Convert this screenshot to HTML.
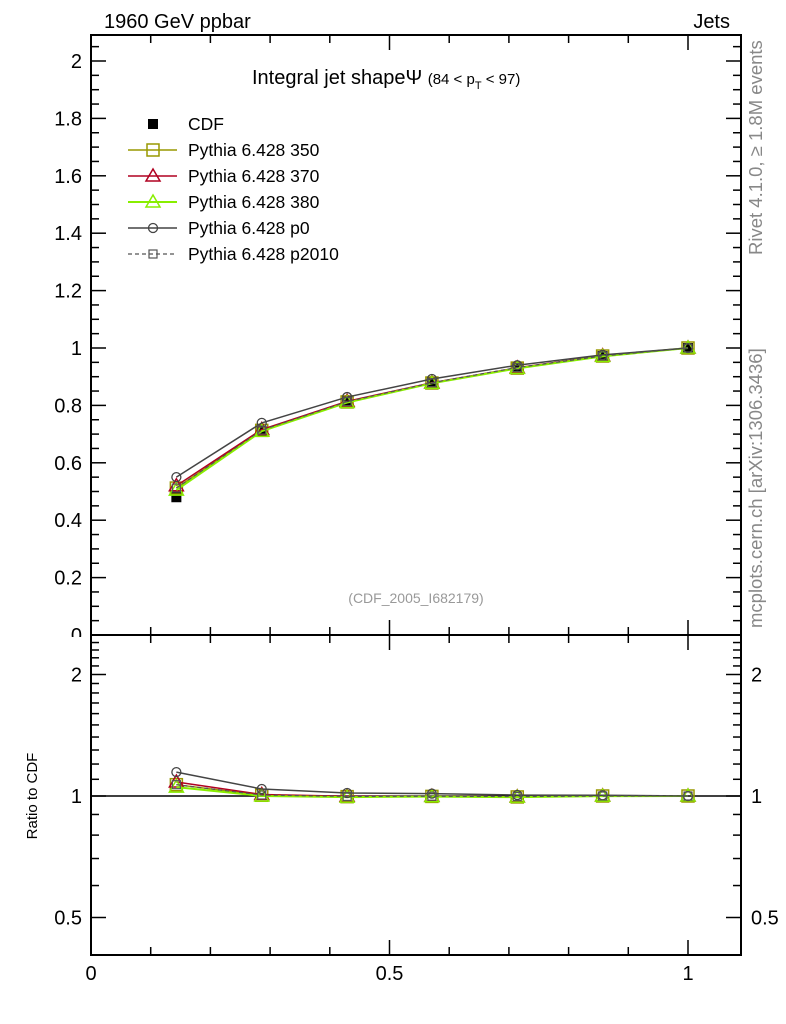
<!DOCTYPE html>
<html><head><meta charset="utf-8"><style>
body{margin:0;background:#fff;}
svg{display:block;font-family:"Liberation Sans",sans-serif;}
</style></head><body>
<svg id="c" width="786" height="1024">
<rect x="91" y="35" width="650" height="600" fill="none" stroke="#000" stroke-width="2"/>
<rect x="91" y="635" width="650" height="320" fill="none" stroke="#000" stroke-width="2"/>
<text x="104" y="28" font-size="20">1960 GeV ppbar</text>
<text x="730" y="28" font-size="20" text-anchor="end">Jets</text>
<text x="252" y="84" font-size="20">Integral jet shape&#936; <tspan font-size="15">(84 &lt; p</tspan><tspan font-size="11" dy="5">T</tspan><tspan font-size="15" dy="-5"> &lt; 97)</tspan></text>
<text x="416" y="603" font-size="14" fill="#999" text-anchor="middle">(CDF_2005_I682179)</text>
<text transform="translate(762,255) rotate(-90)" font-size="18.5" fill="#888">Rivet 4.1.0, ≥ 1.8M events</text>
<text transform="translate(762,628) rotate(-90)" font-size="18.5" fill="#888">mcplots.cern.ch [arXiv:1306.3436]</text>
<text transform="translate(37,796) rotate(-90)" font-size="15" text-anchor="middle">Ratio to CDF</text>
<g id="ax"></g><g id="marks"></g><g id="leg"></g>
<rect x="40" y="637" width="48" height="10" fill="#fff"/>
</svg>
<script>
const xs=[0.143,0.286,0.429,0.571,0.714,0.857,1.0];
const cdf=[0.48,0.71,0.815,0.88,0.935,0.972,1.0];
const s350=[0.512,0.713,0.812,0.878,0.93,0.972,1.0];
const s370=[0.52,0.716,0.814,0.879,0.931,0.973,1.0];
const s380=[0.505,0.71,0.81,0.877,0.929,0.971,1.0];
const sp0=[0.55,0.739,0.829,0.892,0.94,0.976,1.0];
const sp2010=[0.512,0.714,0.813,0.879,0.932,0.972,1.0];
const yTicks=[0,0.2,0.4,0.6,0.8,1,1.2,1.4,1.6,1.8,2];
const yTickLabels=["0","0.2","0.4","0.6","0.8","1","1.2","1.4","1.6","1.8","2"];
const rTicks=[0.5,1,2];
const rTickLabels=["0.5","1","2"];
const xTicks=[0,0.5,1];
const xTickLabels=["0","0.5","1"];
const NS="http://www.w3.org/2000/svg";
const X=v=>91+v*597;
const Y=v=>635-v*287;
const R=v=>796-Math.log2(v)*121.5;
function el(t,a,p){const e=document.createElementNS(NS,t);for(const k in a)e.setAttribute(k,a[k]);(p||document.getElementById('ax')).appendChild(e);return e;}
function ln(x1,y1,x2,y2,w){const e=el('line',{x1,y1,x2,y2,stroke:'#000','stroke-width':w||1.5});

}
for(let v=0;v<=2.07;v+=0.05){const y=Y(v);const maj=Math.abs(v*5-Math.round(v*5))<1e-6;const L=maj?15:8;ln(91,y,91+L,y);ln(741,y,741-L,y);}
yTicks.forEach((v,i)=>{const t=el('text',{x:82,y:Y(v)+7,'font-size':20,'text-anchor':'end'});t.textContent=yTickLabels[i];

});
const rminor=[0.5,0.6,0.7,0.8,0.9,1,1.1,1.2,1.3,1.4,1.5,1.6,1.7,1.8,1.9,2,2.1,2.2,2.3,2.4];
rminor.forEach(v=>{const y=R(v);if(y<636||y>954)return;const maj=rTicks.includes(v);const L=maj?15:8;ln(91,y,91+L,y);ln(741,y,741-L,y);});
rTicks.forEach((v,i)=>{let t=el('text',{x:82,y:R(v)+7,'font-size':20,'text-anchor':'end'});t.textContent=rTickLabels[i];


t=el('text',{x:751,y:R(v)+7,'font-size':20});t.textContent=rTickLabels[i];

});
for(let v=0;v<=1.09;v+=0.1){const x=X(v);const maj=Math.abs(v*2-Math.round(v*2))<1e-6;const L=maj?15:8;ln(x,955,x,955-L);ln(x,635,x,635-L);ln(x,635,x,635+L);ln(x,35,x,35+L);}
xTicks.forEach((v,i)=>{const t=el('text',{x:X(v),y:980,'font-size':20,'text-anchor':'middle'});t.textContent=xTickLabels[i];

});
const l1=el('line',{x1:91,y1:R(1),x2:741,y2:R(1),stroke:'#000','stroke-width':1.5});


const mk=document.getElementById('marks');
function marker(type,x,y,col,g){
 let e;
 if(type==='sq')e=el('rect',{x:x-6,y:y-6,width:12,height:12,fill:'none',stroke:col,'stroke-width':1.5},g);
 else if(type==='ssq')e=el('rect',{x:x-4,y:y-4,width:8,height:8,fill:'none',stroke:col,'stroke-width':1.2},g);
 else if(type==='tri')e=el('polygon',{points:`${x},${y-7} ${x-7},${y+5} ${x+7},${y+5}`,fill:'none',stroke:col,'stroke-width':1.5},g);
 else if(type==='circ')e=el('circle',{cx:x,cy:y,r:4.5,fill:'none',stroke:col,'stroke-width':1.3},g);
 else e=el('rect',{x:x-5,y:y-5,width:10,height:10,fill:col},g);
 
 
}
const gc=el('g',{},mk);


xs.forEach((x,i)=>marker('fill',X(x),Y(cdf[i]),'#000',gc));
const series=[
 {name:'Pythia 6.428 350',d:s350,col:'#999900',m:'sq',w:1.5,dash:''},
 {name:'Pythia 6.428 370',d:s370,col:'#b00020',m:'tri',w:1.5,dash:''},
 {name:'Pythia 6.428 380',d:s380,col:'#88ee00',m:'tri',w:2,dash:''},
 {name:'Pythia 6.428 p0',d:sp0,col:'#444',m:'circ',w:1.5,dash:''},
 {name:'Pythia 6.428 p2010',d:sp2010,col:'#555',m:'ssq',w:1.2,dash:'4,3'}];
series.forEach(s=>{
 const g=el('g',{},mk);
 
 
 const pm=xs.map((x,i)=>X(x)+','+Y(s.d[i])).join(' ');
 const pr=xs.map((x,i)=>X(x)+','+R(s.d[i]/cdf[i])).join(' ');
 let p=el('polyline',{points:pm,fill:'none',stroke:s.col,'stroke-width':s.w,'stroke-dasharray':s.dash},g);
 
 
 p=el('polyline',{points:pr,fill:'none',stroke:s.col,'stroke-width':s.w,'stroke-dasharray':s.dash},g);
 
 
 xs.forEach((x,i)=>{marker(s.m,X(x),Y(s.d[i]),s.col,g);marker(s.m,X(x),R(s.d[i]/cdf[i]),s.col,g);});
});
const lg=document.getElementById('leg');
const entries=[{name:'CDF',m:'fill',col:'#000',w:0,dash:''}].concat(series);
entries.forEach((s,i)=>{
 const y=124+i*26;
 const g=el('g',{},lg);
 
 
 if(s.w){const l=el('line',{x1:128,y1:y,x2:177,y2:y,stroke:s.col,'stroke-width':s.w,'stroke-dasharray':s.dash},g);
 
 }
 marker(s.m,153,y,s.col,g);
 const t=el('text',{x:188,y:y+6,'font-size':17.5},g);t.textContent=s.name;
 
 
});
</script>
</body></html>
